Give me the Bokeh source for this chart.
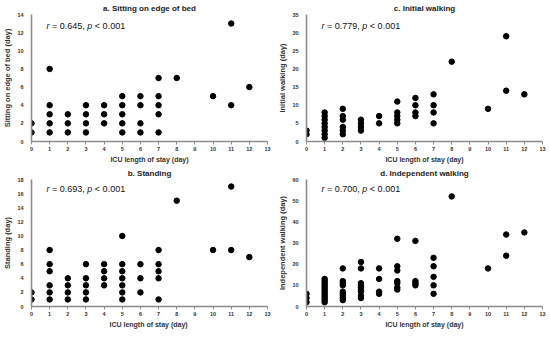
from bokeh.plotting import figure
from bokeh.layouts import gridplot
from bokeh.models import Range1d, FixedTicker
from bokeh.core.properties import value
from bokeh.embed import file_html
from bokeh.resources import INLINE

# ---- data ----
a_x = [0, 0, 1, 1, 1, 1, 1, 2, 2, 2, 3, 3, 3, 3, 4, 4, 4, 5, 5, 5, 5, 5, 6, 6, 6, 6, 7, 7, 7, 7, 7, 8, 10, 11, 11, 12]
a_y = [1, 2, 1, 2, 3, 4, 8, 1, 2, 3, 1, 2, 3, 4, 2, 3, 4, 1, 2, 3, 4, 5, 1, 2, 4, 5, 1, 3, 4, 5, 7, 7, 5, 4, 13, 6]

b_x = [0, 0, 1, 1, 1, 1, 1, 1, 2, 2, 2, 2, 3, 3, 3, 3, 3, 4, 4, 4, 4, 5, 5, 5, 5, 5, 5, 5, 6, 6, 6, 7, 7, 7, 7, 7, 8, 10, 11, 11, 12]
b_y = [1, 2, 1, 2, 3, 5, 6, 8, 1, 2, 3, 4, 1, 2, 3, 4, 6, 3, 4, 5, 6, 1, 2, 3, 4, 5, 6, 10, 2, 4, 6, 1, 4, 5, 6, 8, 15, 8, 8, 17, 7]

c_x = [0, 0, 1, 1, 1, 1, 1, 1, 1, 1, 2, 2, 2, 2, 2, 2, 3, 3, 3, 3, 4, 4, 5, 5, 5, 5, 5, 6, 6, 6, 6, 7, 7, 7, 7, 8, 10, 11, 11, 12]
c_y = [2, 3, 1, 2, 3, 4, 5, 6, 7, 8, 2, 3, 4, 6, 7, 9, 3, 4, 5, 6, 5, 7, 5, 6, 7, 8, 11, 7, 8, 10, 12, 5, 8, 10, 13, 22, 9, 14, 29, 13]

d_x = [0, 0, 0, 1, 1, 1, 1, 1, 1, 1, 1, 1, 1, 1, 1, 2, 2, 2, 2, 2, 2, 2, 2, 2,
       3, 3, 3, 3, 3, 3, 3, 3, 3, 4, 4, 4, 4, 5, 5, 5, 5, 5, 5, 5, 6, 6, 6, 6,
       7, 7, 7, 7, 7, 8, 10, 11, 11, 12]
d_y = [2, 4, 6, 2, 3, 4, 5, 6, 7, 8, 9, 10, 11, 12, 13, 3, 4, 5, 6, 7, 10, 11, 12, 18,
       4, 5, 7, 8, 9, 10, 11, 18, 21, 6, 7, 13, 18, 8, 9, 11, 12, 17, 19, 32, 10, 11, 12, 31,
       6, 10, 14, 19, 23, 52, 18, 24, 34, 35]

titles = ["a. Sitting on edge of bed", "b. Standing", "c. Initial walking", "d. Independent walking"]
y_labels = ["Sitting on edge of bed (day)", "Standing (day)", "Initial walking (day)", "Independent walking (day)"]
x_label = "ICU length of stay (day)"
x_label_b = "ICU length of  stay (day)"
r_values = ["0.645", "0.693", "0.779", "0.700"]
y_max = [14, 18, 35, 60]
y_step = [2, 2, 5, 10]
x_ticks = list(range(0, 14))
r_y = [12.7, 16.7, 31.7, 55.3]

FONT = "Liberation Sans"


def panel(xs, ys, title, ylab, xlab, r, ymax, ystep, ry, right_border, top_border):
    p = figure(frame_width=236, frame_height=127, output_backend="svg", toolbar_location=None,
               x_range=Range1d(0, 13), y_range=Range1d(0, ymax),
               min_border_left=0, min_border_right=right_border,
               min_border_top=top_border, min_border_bottom=0)
    p.title.text = title
    p.title.align = "center"
    p.title.text_font = FONT
    p.title.text_font_size = "8px"
    p.title.text_font_style = "bold"
    p.title.text_color = "#222222"
    p.title.standoff = 3
    p.grid.visible = False
    p.outline_line_color = None
    p.background_fill_color = "white"
    p.border_fill_color = "white"

    for ax in (p.xaxis[0], p.yaxis[0]):
        ax.axis_line_color = "#8c8c8c"
        ax.axis_line_width = 1.6
        ax.major_label_text_font = FONT
        ax.major_label_text_font_size = "5.5px"
        ax.major_label_text_font_style = "bold"
        ax.major_label_text_color = "#333333"
        ax.axis_label_text_font = FONT
        ax.axis_label_text_font_style = "bold"
        ax.axis_label_text_color = "#333333"
        ax.minor_tick_line_color = None
        ax.axis_label_standoff = 2
        ax.major_label_standoff = 2
    p.xaxis.axis_label_text_font_size = "7px"
    p.yaxis.axis_label_text_font_size = "7.5px"
    p.xaxis.ticker = FixedTicker(ticks=x_ticks)
    p.xaxis.major_tick_line_color = "#8c8c8c"
    p.xaxis.major_tick_out = 3
    p.xaxis.major_tick_in = 0
    p.yaxis.ticker = FixedTicker(ticks=list(range(0, ymax + 1, ystep)))
    p.yaxis.major_tick_line_color = None
    p.xaxis.axis_label = xlab
    p.yaxis.axis_label = ylab

    p.scatter(xs, ys, size=5.5, color="black", line_color="black")

    fs = "9px"
    p.text(x=[0.83], y=[ry], text=["r"], text_font=value(FONT), text_font_size=fs,
           text_font_style="italic", text_baseline="middle", text_color="#111111")
    p.text(x=[0.83], y=[ry], text=["= " + r + ","], text_font=value(FONT), text_font_size=fs,
           text_baseline="middle", x_offset=5.5, text_color="#111111")
    p.text(x=[0.83], y=[ry], text=["p"], text_font=value(FONT), text_font_size=fs,
           text_font_style="italic", text_baseline="middle", x_offset=40.8, text_color="#111111")
    p.text(x=[0.83], y=[ry], text=["< 0.001"], text_font=value(FONT), text_font_size=fs,
           text_baseline="middle", x_offset=48.3, text_color="#111111")
    return p


pa = panel(a_x, a_y, titles[0], y_labels[0], x_label, r_values[0], y_max[0], y_step[0], r_y[0], 8, 5)
pb = panel(b_x, b_y, titles[1], y_labels[1], x_label_b, r_values[1], y_max[1], y_step[1], r_y[1], 8, 13)
pc = panel(c_x, c_y, titles[2], y_labels[2], x_label, r_values[2], y_max[2], y_step[2], r_y[2], 6, 5)
pd = panel(d_x, d_y, titles[3], y_labels[3], x_label, r_values[3], y_max[3], y_step[3], r_y[3], 6, 13)

grid = gridplot([[pa, pc], [pb, pd]], toolbar_location=None)

open("out.html", "w").write(file_html(grid, INLINE))
